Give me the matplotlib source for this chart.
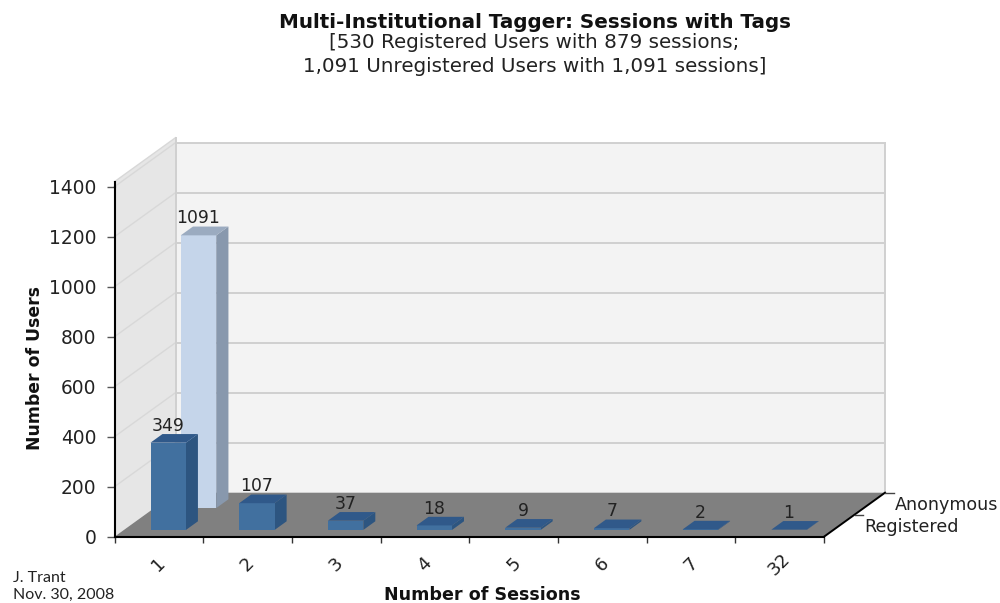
import matplotlib
matplotlib.use("Agg")
import matplotlib.pyplot as plt
from matplotlib.patches import Polygon

# Data
session_labels = ["1", "2", "3", "4", "5", "6", "7", "32"]
registered = [349, 107, 37, 18, 9, 7, 2, 1]
anonymous = [1091]
series_labels = ["Registered", "Anonymous"]
y_ticks = [0, 200, 400, 600, 800, 1000, 1200, 1400]

W, H = 1000, 603
fig = plt.figure(figsize=(W / 100, H / 100), dpi=100)
FLOOR_PX, TOP_PX, LEFT_PX, RIGHT_PX = 536.7, 186.7, 114.5, 824.0
ax = fig.add_axes([LEFT_PX / W, 1 - FLOOR_PX / H,
                   (RIGHT_PX - LEFT_PX) / W, (FLOOR_PX - TOP_PX) / H])
n = len(session_labels)
ax.set_xlim(0, n)
ax.set_ylim(0, 1400)
ax.patch.set_visible(False)

# Oblique projection: depth 0 is the front edge of the floor, depth 1 the back wall
DX = 61 / ((RIGHT_PX - LEFT_PX) / n)
DY = 44 / ((FLOOR_PX - TOP_PX) / 1400)
RIM = 20  # height of the wall's upper rim above the top gridline


def proj(x, v, d):
    return (x + d * DX, v + d * DY)


def face(points, color, z):
    ax.add_patch(Polygon([proj(*p) for p in points], closed=True, facecolor=color,
                         edgecolor="none", linewidth=0, zorder=z, clip_on=False))


def line(points, color, lw, z):
    xs, ys = zip(*[proj(*p) for p in points])
    ax.plot(xs, ys, color=color, lw=lw, zorder=z, clip_on=False, solid_joinstyle="miter")


GRID = "#d0d0d0"
# Walls and floor
face([(0, 0, 1), (n, 0, 1), (n, 1400, 1), (0, 1400, 1)], "#f3f3f3", 1)
face([(0, 0, 0), (0, 0, 1), (0, 1400 + RIM, 1), (0, 1400 + RIM, 0)], "#e6e6e6", 1)
face([(0, 0, 0), (n, 0, 0), (n, 0, 1), (0, 0, 1)], "#808080", 2)

for v in y_ticks[1:]:
    line([(0, v, 0), (0, v, 1)], "#d8d8d8", 1.0, 1.5)
    line([(0, v, 1), (n, v, 1)], GRID, 1.4, 1.5)
line([(0, 1400 + RIM, 0), (0, 1400 + RIM, 1)], "#d8d8d8", 1.0, 1.5)
line([(n, 0, 1), (n, 1400, 1)], GRID, 1.4, 1.5)
line([(0, 0, 1), (0, 1400 + RIM, 1)], GRID, 1.4, 1.5)


def bar3d(i, value, d0, d1, front, side, top, z):
    x0, x1 = i + 0.5 - 0.2, i + 0.5 + 0.2
    face([(x0, 0, d0), (x1, 0, d0), (x1, value, d0), (x0, value, d0)], front, z + 0.2)
    face([(x1, 0, d0), (x1, 0, d1), (x1, value, d1), (x1, value, d0)], side, z + 0.1)
    face([(x0, value, d0), (x1, value, d0), (x1, value, d1), (x0, value, d1)], top, z + 0.3)
    lx = proj(i + 0.5, value, d0)[0]
    ly = proj(i + 0.5, value, d1)[1]
    ax.annotate(str(value), (lx, ly), xytext=(0, -0.6), textcoords="offset points",
                ha="center", va="bottom", fontsize=12.4, color="#222222",
                zorder=z + 0.4, annotation_clip=False)


for i, val in enumerate(anonymous):
    bar3d(i, val, 0.65, 0.85, "#c5d5ea", "#8898ad", "#9babc0", 3)
for i, val in enumerate(registered):
    bar3d(i, val, 0.154, 0.35, "#41709f", "#2d5580", "#30598a", 4)

# Axes: black spines on the front plane
for s in ("top", "right"):
    ax.spines[s].set_visible(False)
for s in ("left", "bottom"):
    ax.spines[s].set_linewidth(1.5)
    ax.spines[s].set_zorder(6)
line([(0, 1400, 0), (0, 1400 + RIM, 0)], "black", 1.5, 6)
ax.set_yticks(y_ticks)
ax.set_xticks(range(n + 1))
ax.set_xticklabels([])
ax.set_xticks([i + 0.5 for i in range(n)], minor=True)
ax.set_xticklabels(session_labels, minor=True, rotation=45, ha="center", va="center",
                   fontsize=13, color="#222222")
ax.tick_params(axis="x", which="minor", length=0, pad=20)
ax.tick_params(axis="x", which="major", length=4, color="#333333", width=1)
ax.tick_params(axis="y", length=6, color="#555555", width=1, pad=7,
               labelsize=13.4, labelcolor="#222222")

# Floor's right edge, with depth ticks
line([(n, 0, 0), (n, 0, 1)], "black", 1.4, 6)
for d in (0.5, 1.0):
    line([(n, 0, d), (n + 0.1, 0, d)], "#444444", 1, 6)


def text_px(x, y, s, **kw):
    fig.text(x / W, 1 - y / H, s, va="center", **kw)


TXT = "#222222"
text_px(535, 22, "Multi-Institutional Tagger: Sessions with Tags", ha="center",
        fontsize=14.3, fontweight="bold", color="#111111")
text_px(534, 42, "[530 Registered Users with 879 sessions;", ha="center", fontsize=14.3, color=TXT)
text_px(535, 66, "1,091 Unregistered Users with 1,091 sessions]", ha="center", fontsize=14.3, color=TXT)
text_px(35, 368, "Number of Users", ha="center", rotation=90, fontsize=12.4,
        fontweight="bold", color="#111111")
text_px(482, 595, "Number of Sessions", ha="center", fontsize=12.6,
        fontweight="bold", color="#111111")
text_px(998, 505, series_labels[1], ha="right", fontsize=12.6, color=TXT)
text_px(864, 527, series_labels[0], ha="left", fontsize=12.6, color=TXT)
text_px(13, 578, "J. Trant", ha="left", fontsize=11.5, family="Lato", color=TXT)
text_px(13, 595, "Nov. 30, 2008", ha="left", fontsize=11.5, family="Lato", color=TXT)

fig.savefig("out.png", dpi=100)
